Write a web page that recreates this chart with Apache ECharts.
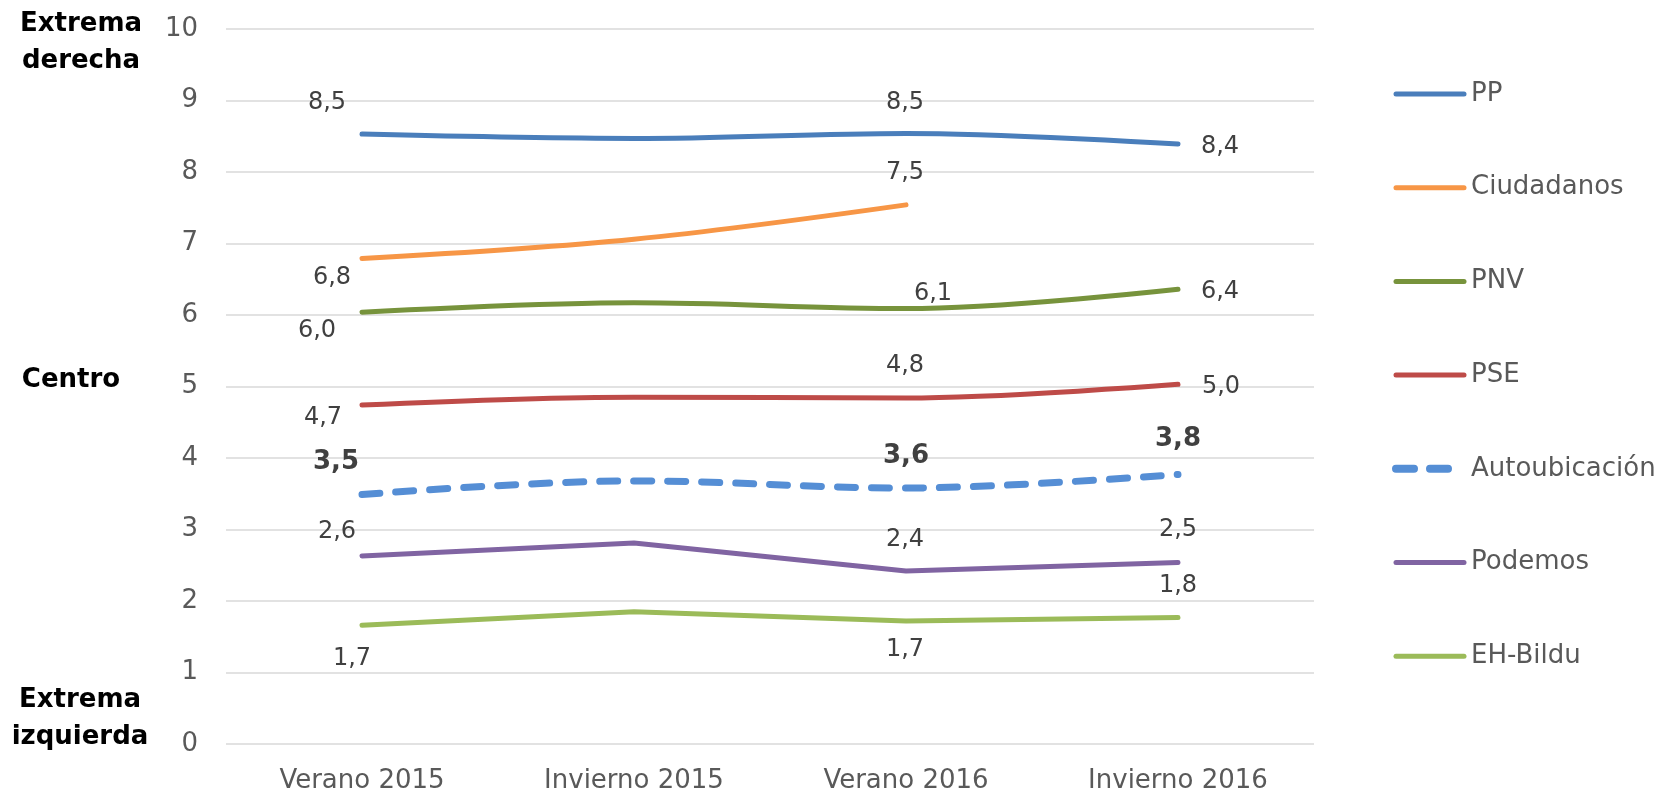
<!DOCTYPE html>
<html>
<head>
<meta charset="utf-8">
<script src="https://cdn.jsdelivr.net/npm/echarts@6/dist/echarts.min.js"></script>
<style>
  html,body{margin:0;padding:0;background:#fff;}
  #main{width:1657px;height:794px;}
</style>
</head>
<body>
<div id="main"></div>
<script>
// datos
var periodos = ['Verano 2015', 'Invierno 2015', 'Verano 2016', 'Invierno 2016'];
var pp = [8.53, 8.47, 8.54, 8.39];
var ciudadanos = [6.79, 7.06, 7.54, null];
var pnv = [6.04, 6.17, 6.09, 6.36];
var pse = [4.74, 4.85, 4.84, 5.03];
var autoubicacion = [3.49, 3.68, 3.58, 3.77];
var podemos = [2.63, 2.81, 2.42, 2.54];
var ehBildu = [1.66, 1.85, 1.72, 1.77];
var yTicks = [0, 1, 2, 3, 4, 5, 6, 7, 8, 9, 10];

// desplazamiento de cada etiqueta respecto a su punto (null = sin etiqueta)
var offsets = {
  'PP': [[-35, -31], null, [-1, -31], [42, 3]],
  'Ciudadanos': [[-30, 19], null, [-1, -32], null],
  'PNV': [[-45, 19], null, [27, -15], [42, 3]],
  'PSE': [[-39, 13], null, [-1, -32], [43, 2]],
  'Autoubicación': [[-26, -32], null, [0, -32], [0, -35]],
  'Podemos': [[-25, -24], null, [-1, -31], [0, -33]],
  'EH-Bildu': [[-10, 33], null, [-1, 29], [0, -32]]
};

var FONT = '"DejaVu Sans", sans-serif';

function fmt(v) {
  return v.toFixed(1).replace('.', ',');
}

function serie(name, values, color, opts) {
  opts = opts || {};
  var offs = offsets[name];
  var data = values.map(function (v, i) {
    if (v === null) return null;
    var o = offs[i];
    return {
      value: v,
      label: o ? { show: true, offset: o } : { show: false }
    };
  });
  return {
    name: name,
    type: 'line',
    data: data,
    smooth: opts.smooth === undefined ? 0.35 : opts.smooth,
    symbol: 'circle',
    symbolSize: 1,
    itemStyle: { color: color },
    lineStyle: {
      color: color,
      width: opts.width || 5,
      type: opts.dash || 'solid',
      cap: 'round',
      join: 'round'
    },
    label: {
      show: true,
      position: 'inside',
      formatter: function (p) { return fmt(p.value); },
      fontFamily: FONT,
      fontSize: opts.bold ? 26 : 24,
      fontWeight: opts.bold ? 'bold' : 'normal',
      color: '#404040'
    },
    emphasis: { disabled: true },
    z: opts.z || 2
  };
}

var colores = {
  'PP': '#4a7ebb',
  'Ciudadanos': '#f79646',
  'PNV': '#77933c',
  'PSE': '#be4b48',
  'Autoubicación': '#558ed5',
  'Podemos': '#8064a2',
  'EH-Bildu': '#9bbb59'
};
var nombres = ['PP', 'Ciudadanos', 'PNV', 'PSE', 'Autoubicación', 'Podemos', 'EH-Bildu'];

var chart = echarts.init(document.getElementById('main'));
chart.setOption({
  animation: false,
  grid: { left: 226, right: 343, top: 29, bottom: 48 },
  legend: {
    orient: 'vertical',
    left: 1392,
    top: 81,
    padding: 0,
    itemWidth: 68,
    itemHeight: 26,
    itemGap: 67.7,
    textStyle: { fontFamily: FONT, fontSize: 26, color: '#595959', lineHeight: 26, padding: [0, 0, 0, 2] },
    itemStyle: { opacity: 0 },
    data: nombres.map(function (n) {
      var dashed = n === 'Autoubicación';
      return {
        name: n,
        lineStyle: {
          color: colores[n],
          width: dashed ? 8 : 5,
          type: dashed ? [18, 16] : 'solid',
          cap: 'round'
        }
      };
    })
  },
  xAxis: {
    type: 'category',
    data: periodos,
    boundaryGap: true,
    axisLine: { show: false },
    axisTick: { show: false },
    axisLabel: { fontFamily: FONT, fontSize: 26, color: '#595959', margin: 24 }
  },
  yAxis: {
    type: 'value',
    min: yTicks[0],
    max: yTicks[yTicks.length - 1],
    interval: 1,
    axisLine: { show: false },
    axisTick: { show: false },
    axisLabel: { fontFamily: FONT, fontSize: 26, color: '#595959', margin: 28 },
    splitLine: { lineStyle: { color: '#d9d9d9', width: 1.5 } }
  },
  graphic: [
    { type: 'text', x: 81, y: 43, style: { text: 'Extrema\nderecha', fontFamily: FONT, fontSize: 26, fontWeight: 'bold', fill: '#000', align: 'center', verticalAlign: 'middle', lineHeight: 37 } },
    { type: 'text', x: 71, y: 380, style: { text: 'Centro', fontFamily: FONT, fontSize: 26, fontWeight: 'bold', fill: '#000', align: 'center', verticalAlign: 'middle' } },
    { type: 'text', x: 80, y: 719, style: { text: 'Extrema\nizquierda', fontFamily: FONT, fontSize: 26, fontWeight: 'bold', fill: '#000', align: 'center', verticalAlign: 'middle', lineHeight: 37 } }
  ],
  series: [
    serie('PP', pp, colores['PP']),
    serie('Ciudadanos', ciudadanos, colores['Ciudadanos']),
    serie('PNV', pnv, colores['PNV']),
    serie('PSE', pse, colores['PSE']),
    serie('Autoubicación', autoubicacion, colores['Autoubicación'], { width: 7, dash: [18, 16], bold: true, z: 3 }),
    serie('Podemos', podemos, colores['Podemos'], { smooth: false }),
    serie('EH-Bildu', ehBildu, colores['EH-Bildu'], { smooth: false })
  ]
});
</script>
</body>
</html>
